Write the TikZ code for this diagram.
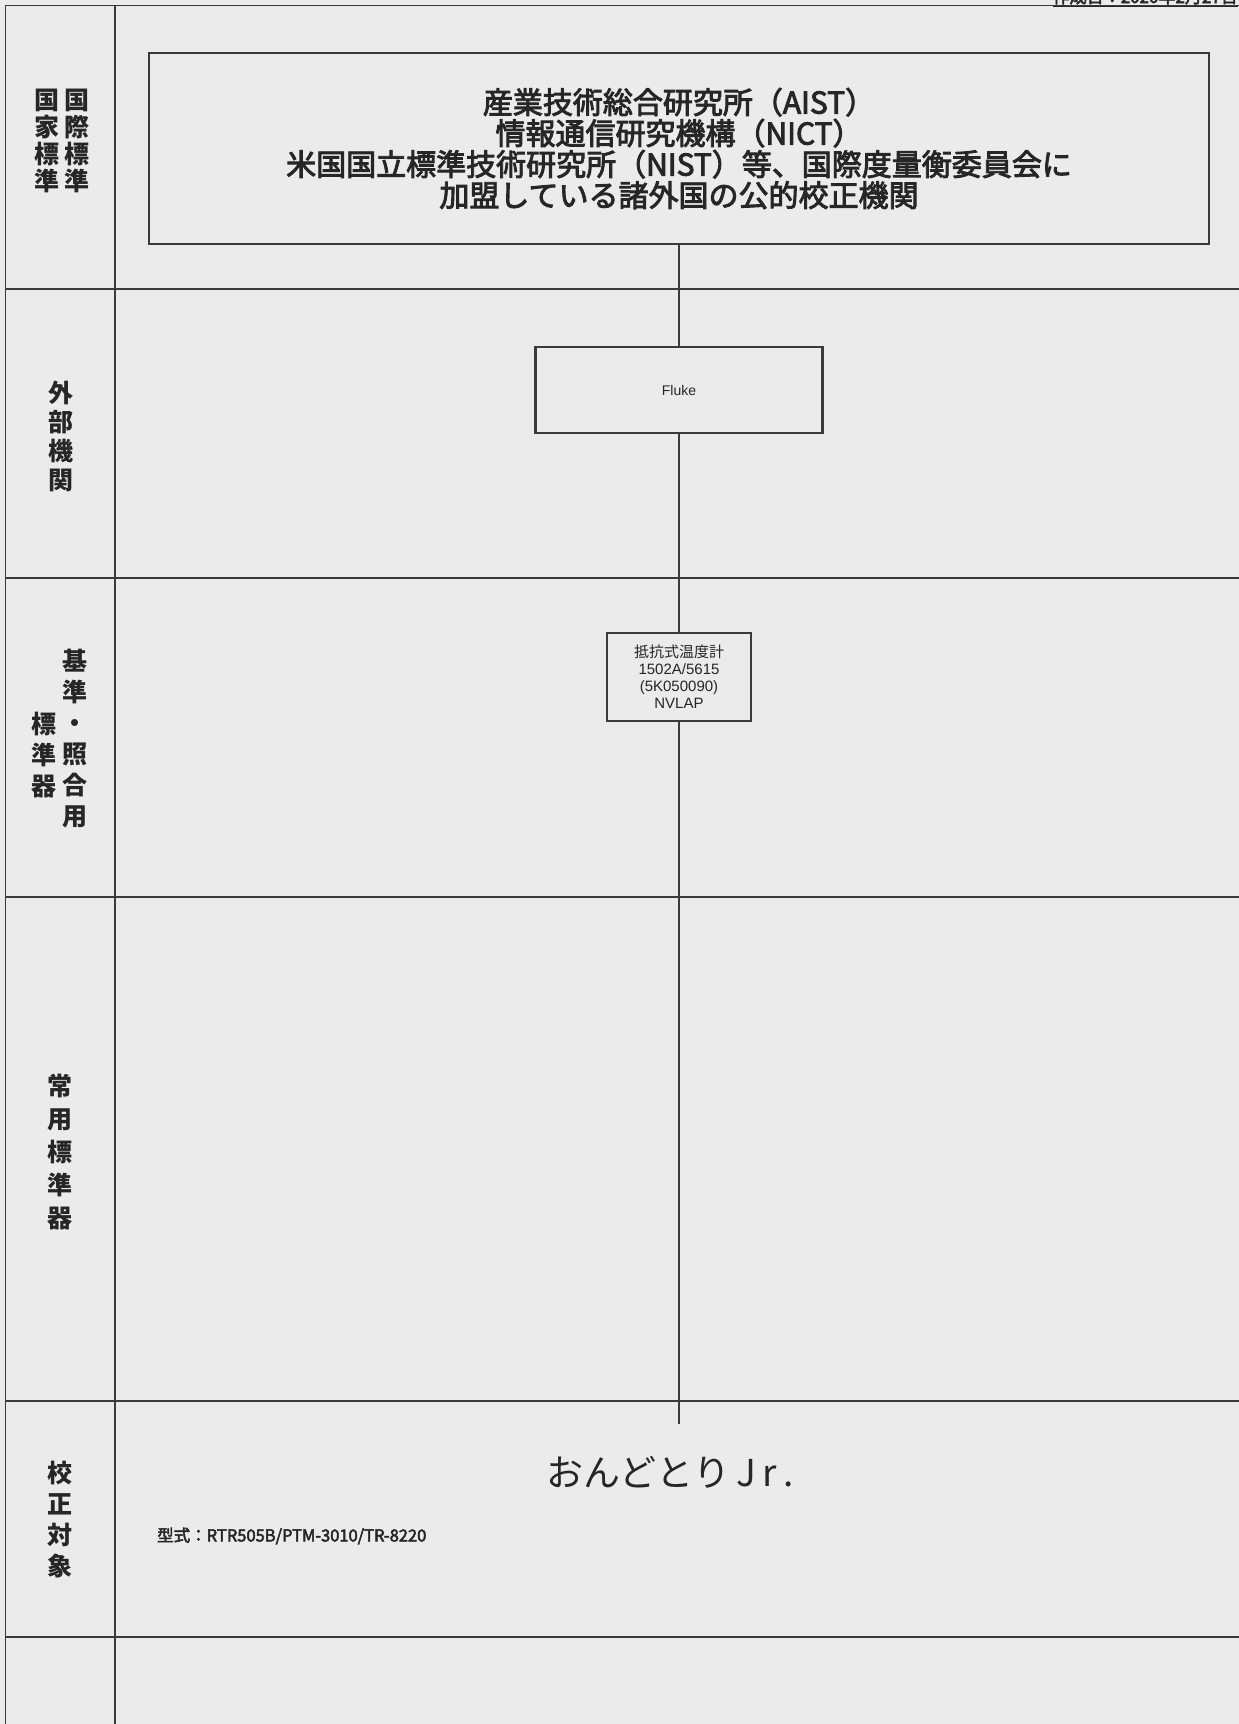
\documentclass[tikz,border=0pt]{standalone}
\usepackage{fontspec}
\usepackage{xcolor}
\setmainfont{Liberation Sans}
\newfontfamily\jp{Noto Sans CJK JP}
\newfontfamily\jpm[FakeBold=3]{Noto Sans CJK JP}
\definecolor{bggray}{RGB}{235,235,235}
\definecolor{linegray}{RGB}{58,58,58}
\definecolor{textgray}{RGB}{38,38,38}

\begin{document}
\begin{tikzpicture}[x=1pt, y=-1pt,
        frame/.style={draw=linegray, line width=1.4pt},
        box/.style={draw=linegray, line width=2.2pt, fill=bggray, inner sep=0pt, text=textgray, align=center},
        link/.style={draw=linegray, line width=2pt},
        lab/.style={inner sep=0pt, align=center, text=textgray, font=\jp\bfseries\fontsize{25}{27}\selectfont}]
        \useasboundingbox (0,0) rectangle (1239,1724);
        \fill[bggray] (0,0) rectangle (1239,1724);

        \draw[frame] (5.5,1724) -- (5.5,5.5) -- (1239,5.5);
        \draw[frame] (115,5.5) -- (115,1724);
        \foreach \y in {289, 578, 897, 1401, 1637}
            \draw[frame] (5.5,\y) -- (1239,\y);

        \node[anchor=base east, inner sep=0pt, text=textgray, font=\jpm\fontsize{17}{17}\selectfont] (date) at (1238,3) {\underline{作成日：2020年2月27日}};

        \node[lab] (kokka) at (47,141) {国\\家\\標\\準};
        \node[lab] (kokusai) at (77,141) {国\\際\\標\\準};
        \node[lab, font=\jp\bfseries\fontsize{25}{29}\selectfont] (gaibu) at (61,436) {外\\部\\機\\関};
        \node[lab, font=\jp\bfseries\fontsize{25}{31}\selectfont] (kijun) at (75,739) {基\\準\\・\\照\\合\\用};
        \node[lab, font=\jp\bfseries\fontsize{25}{31}\selectfont] (hyojunki) at (44,755) {標\\準\\器};
        \node[lab, font=\jp\bfseries\fontsize{25}{33}\selectfont] (joyo) at (60,1152) {常\\用\\標\\準\\器};
        \node[lab, font=\jp\bfseries\fontsize{25}{31}\selectfont] (kosei) at (60,1520) {校\\正\\対\\象};

        \node[box, minimum width=1060pt, minimum height=191pt, font=\jpm\fontsize{30}{31}\selectfont] (aist) at (679,148.5)
            {産業技術総合研究所（AIST）\\情報通信研究機構（NICT）\\米国国立標準技術研究所（NIST）等、国際度量衡委員会に\\加盟している諸外国の公的校正機関};
        \node[box, minimum width=287pt, minimum height=86pt, font=\fontsize{14}{16}\selectfont] (fluke) at (679,390) {Fluke};
        \node[box, minimum width=144pt, minimum height=88pt, font=\fontsize{15}{17}\selectfont] (rtd) at (679,677)
            {{\jp 抵抗式温度計}\\1502A/5615\\(5K050090)\\NVLAP};
        \coordinate (jrtop) at (679,1424);

        \node[inner sep=0pt, text=textgray, font=\jp\fontsize{37}{37}\selectfont] (jr) at (670,1472) {おんどとり\,J\,r\,.};
        \node[anchor=west, inner sep=0pt, text=textgray, font=\jpm\fontsize{16.5}{16.5}\selectfont] (model) at (157,1536) {型式：RTR505B/PTM-3010/TR-8220};

        \draw[link] (aist) -- (fluke) -- (rtd) -- (jrtop);
\end{tikzpicture}
\end{document}
